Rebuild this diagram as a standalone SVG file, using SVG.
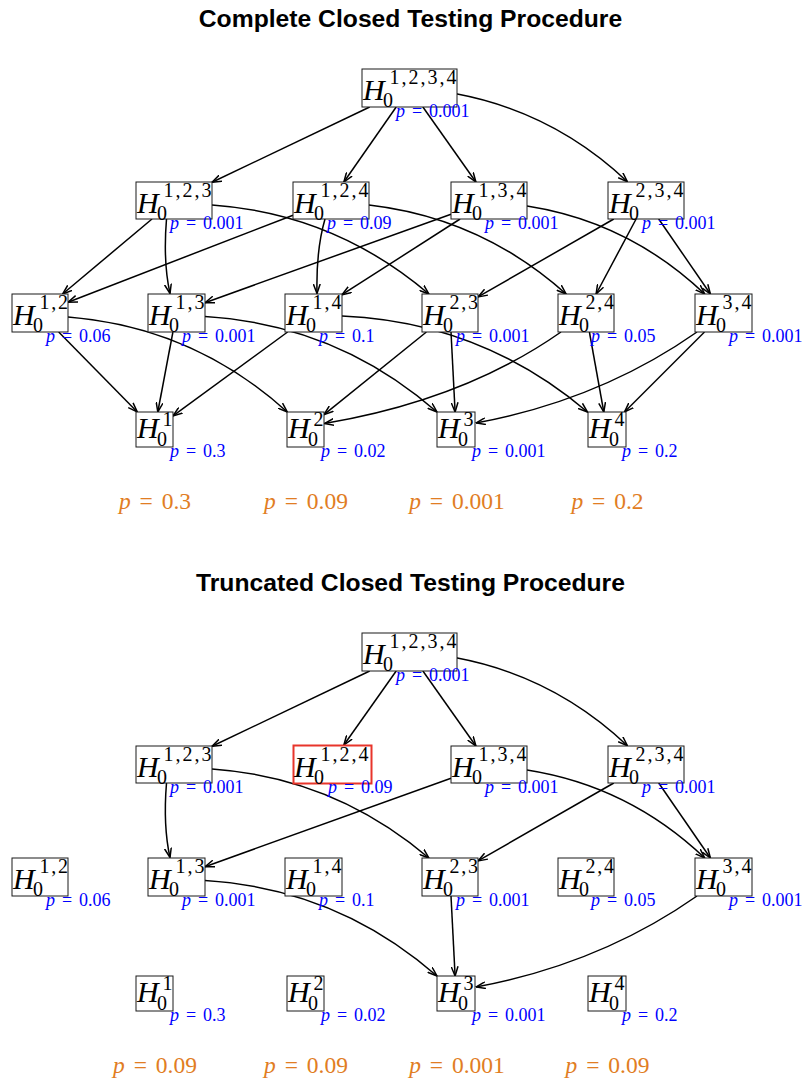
<svg xmlns="http://www.w3.org/2000/svg" width="806" height="1082" viewBox="0 0 806 1082">
  <defs>
    <style>
      .title { font-family: "Liberation Sans", Arial, sans-serif; font-weight: bold; font-size: 24.7px; fill: #000; text-anchor: middle; }
      .box { fill: #fff; stroke: #1a1a1a; stroke-width: 1; }
      .hl { fill: #fff; stroke: #e8352b; stroke-width: 2; }
      .H { font-family: "Liberation Serif", "Times New Roman", serif; font-style: italic; font-size: 30px; fill: #000; }
      .s { font-family: "Liberation Serif", "Times New Roman", serif; font-size: 20px; fill: #000; }
      .pv { font-family: "Liberation Serif", "Times New Roman", serif; font-size: 18px; fill: #0000ff; word-spacing: 2.4px; }
      .po { font-family: "Liberation Serif", "Times New Roman", serif; font-size: 23.5px; fill: #e17d23; word-spacing: 3px; text-anchor: middle; }
      .i { font-style: italic; }
      .e { fill: none; stroke: #000; stroke-width: 1.5; marker-end: url(#arr); }
    </style>
    <marker id="arr" viewBox="0 0 10 8" refX="9.5" refY="4" markerWidth="10" markerHeight="8" markerUnits="userSpaceOnUse" orient="auto">
      <path d="M0,0.6 L9.5,4 L0,7.4" fill="none" stroke="#000" stroke-width="1.5"/>
    </marker>
  </defs>
  <rect width="806" height="1082" fill="#fff"/>

  <!-- ===== Complete closed testing procedure ===== -->
  <g id="complete">
    <text class="title" x="410.5" y="27">Complete Closed Testing Procedure</text>

    <g id="t-edges">
      <path class="e" d="M369.7,107 L212,182.3"/>
      <path class="e" d="M396.2,107 L343.9,182"/>
      <path class="e" d="M422.9,107 L475.9,182"/>
      <path class="e" d="M456.1,93.8 Q553.9,112.2 627.4,181.7"/>
      <path class="e" d="M152,219 L62.6,294"/>
      <path class="e" d="M166.5,219 Q163,262 170,293.5"/>
      <path class="e" d="M212,205 Q334.4,213.6 428.9,294"/>
      <path class="e" d="M293,215.2 L68,302.2"/>
      <path class="e" d="M325,219 Q316,250 317,293.5"/>
      <path class="e" d="M369,205 Q481.3,218 566.1,294"/>
      <path class="e" d="M451,214.2 L205,302.7"/>
      <path class="e" d="M460.1,219 L342,294.7"/>
      <path class="e" d="M527,206 Q629,222 704.7,294"/>
      <path class="e" d="M613.8,219 L478,296.9"/>
      <path class="e" d="M636.1,219 L596.1,294"/>
      <path class="e" d="M658.7,219 L710.4,294"/>
      <path class="e" d="M58.7,332 L137.3,412"/>
      <path class="e" d="M68,317 Q193.6,327.1 287.3,412"/>
      <path class="e" d="M172.9,332 L157.8,412"/>
      <path class="e" d="M205,316.5 Q337.1,324.5 437,412"/>
      <path class="e" d="M287.6,332 L173,415.9"/>
      <path class="e" d="M342,316 Q481.1,321.8 587.5,412"/>
      <path class="e" d="M426.4,332 L324,414.6"/>
      <path class="e" d="M451,332 L455.1,412"/>
      <path class="e" d="M561,332 Q464,400 324.5,423.5"/>
      <path class="e" d="M589.4,332 L603.8,412"/>
      <path class="e" d="M697,332 Q600,400 476,423"/>
      <path class="e" d="M704.5,332 L624.5,412"/>
    </g>

    <g id="t-h1234">
      <rect class="box" x="362" y="69" width="95" height="38"/>
      <text class="H" x="363" y="99.5">H</text>
      <text class="s" x="389.5" y="83.5" textLength="67" lengthAdjust="spacing">1,2,3,4</text>
      <text class="s" x="383" y="106.5">0</text>
      <text class="pv" x="396" y="117"><tspan class="i">p</tspan> = 0.001</text>
    </g>

    <g id="t-h123">
      <rect class="box" x="136" y="182" width="76" height="37"/>
      <text class="H" x="137" y="212.5">H</text>
      <text class="s" x="163.5" y="196.5" textLength="48" lengthAdjust="spacing">1,2,3</text>
      <text class="s" x="157" y="219.5">0</text>
      <text class="pv" x="170" y="229"><tspan class="i">p</tspan> = 0.001</text>
    </g>
    <g id="t-h124">
      <rect class="box" x="293" y="182" width="76" height="37"/>
      <text class="H" x="294" y="212.5">H</text>
      <text class="s" x="320.5" y="196.5" textLength="48" lengthAdjust="spacing">1,2,4</text>
      <text class="s" x="314" y="219.5">0</text>
      <text class="pv" x="327" y="229"><tspan class="i">p</tspan> = 0.09</text>
    </g>
    <g id="t-h134">
      <rect class="box" x="451" y="182" width="76" height="37"/>
      <text class="H" x="452" y="212.5">H</text>
      <text class="s" x="478.5" y="196.5" textLength="48" lengthAdjust="spacing">1,3,4</text>
      <text class="s" x="472" y="219.5">0</text>
      <text class="pv" x="485" y="229"><tspan class="i">p</tspan> = 0.001</text>
    </g>
    <g id="t-h234">
      <rect class="box" x="608" y="182" width="76" height="37"/>
      <text class="H" x="609" y="212.5">H</text>
      <text class="s" x="635.5" y="196.5" textLength="48" lengthAdjust="spacing">2,3,4</text>
      <text class="s" x="629" y="219.5">0</text>
      <text class="pv" x="642" y="229"><tspan class="i">p</tspan> = 0.001</text>
    </g>

    <g id="t-h12">
      <rect class="box" x="12" y="294" width="56" height="38"/>
      <text class="H" x="13" y="324.5">H</text>
      <text class="s" x="39.5" y="308.5" textLength="28.5" lengthAdjust="spacing">1,2</text>
      <text class="s" x="33" y="331.5">0</text>
      <text class="pv" x="46" y="342"><tspan class="i">p</tspan> = 0.06</text>
    </g>
    <g id="t-h13">
      <rect class="box" x="148" y="294" width="57" height="38"/>
      <text class="H" x="149" y="324.5">H</text>
      <text class="s" x="175.5" y="308.5" textLength="29" lengthAdjust="spacing">1,3</text>
      <text class="s" x="169" y="331.5">0</text>
      <text class="pv" x="182" y="342"><tspan class="i">p</tspan> = 0.001</text>
    </g>
    <g id="t-h14">
      <rect class="box" x="285" y="294" width="57" height="38"/>
      <text class="H" x="286" y="324.5">H</text>
      <text class="s" x="312.5" y="308.5" textLength="29" lengthAdjust="spacing">1,4</text>
      <text class="s" x="306" y="331.5">0</text>
      <text class="pv" x="319" y="342"><tspan class="i">p</tspan> = 0.1</text>
    </g>
    <g id="t-h23">
      <rect class="box" x="422" y="294" width="56" height="38"/>
      <text class="H" x="423" y="324.5">H</text>
      <text class="s" x="449.5" y="308.5" textLength="28.5" lengthAdjust="spacing">2,3</text>
      <text class="s" x="443" y="331.5">0</text>
      <text class="pv" x="456" y="342"><tspan class="i">p</tspan> = 0.001</text>
    </g>
    <g id="t-h24">
      <rect class="box" x="558" y="294" width="56" height="38"/>
      <text class="H" x="559" y="324.5">H</text>
      <text class="s" x="585.5" y="308.5" textLength="28.5" lengthAdjust="spacing">2,4</text>
      <text class="s" x="579" y="331.5">0</text>
      <text class="pv" x="591" y="342"><tspan class="i">p</tspan> = 0.05</text>
    </g>
    <g id="t-h34">
      <rect class="box" x="695" y="294" width="57" height="38"/>
      <text class="H" x="696" y="324.5">H</text>
      <text class="s" x="722.5" y="308.5" textLength="29" lengthAdjust="spacing">3,4</text>
      <text class="s" x="716" y="331.5">0</text>
      <text class="pv" x="729" y="342"><tspan class="i">p</tspan> = 0.001</text>
    </g>

    <g id="t-h1">
      <rect class="box" x="136" y="412" width="37" height="35"/>
      <text class="H" x="137" y="437.5">H</text>
      <text class="s" x="162.5" y="426">1</text>
      <text class="s" x="157" y="446">0</text>
      <text class="pv" x="170" y="457"><tspan class="i">p</tspan> = 0.3</text>
    </g>
    <g id="t-h2">
      <rect class="box" x="287" y="412" width="37" height="35"/>
      <text class="H" x="288" y="437.5">H</text>
      <text class="s" x="313.5" y="426">2</text>
      <text class="s" x="308" y="446">0</text>
      <text class="pv" x="321" y="457"><tspan class="i">p</tspan> = 0.02</text>
    </g>
    <g id="t-h3">
      <rect class="box" x="437" y="412" width="38" height="35"/>
      <text class="H" x="438" y="437.5">H</text>
      <text class="s" x="463.5" y="426">3</text>
      <text class="s" x="458" y="446">0</text>
      <text class="pv" x="472" y="457"><tspan class="i">p</tspan> = 0.001</text>
    </g>
    <g id="t-h4">
      <rect class="box" x="588" y="412" width="38" height="35"/>
      <text class="H" x="589" y="437.5">H</text>
      <text class="s" x="614.5" y="426">4</text>
      <text class="s" x="609" y="446">0</text>
      <text class="pv" x="622" y="457"><tspan class="i">p</tspan> = 0.2</text>
    </g>

    <g id="t-adjusted">
      <text class="po" x="155" y="509"><tspan class="i">p</tspan> = 0.3</text>
      <text class="po" x="306" y="509"><tspan class="i">p</tspan> = 0.09</text>
      <text class="po" x="457" y="509"><tspan class="i">p</tspan> = 0.001</text>
      <text class="po" x="607.5" y="509"><tspan class="i">p</tspan> = 0.2</text>
    </g>
  </g>

  <!-- ===== Truncated closed testing procedure ===== -->
  <g id="truncated" transform="translate(0,564)">
    <text class="title" x="410.5" y="27">Truncated Closed Testing Procedure</text>

    <g id="b-edges">
      <path class="e" d="M369.7,107 L212,182.3"/>
      <path class="e" d="M396.2,107 L343.9,181"/>
      <path class="e" d="M422.9,107 L475.9,182"/>
      <path class="e" d="M456.1,93.8 Q553.9,112.2 627.4,181.7"/>
      <path class="e" d="M166.5,219 Q163,262 170,293.5"/>
      <path class="e" d="M212,205 Q334.4,213.6 428.9,294"/>
      <path class="e" d="M451,214.2 L205,302.7"/>
      <path class="e" d="M527,206 Q629,222 704.7,294"/>
      <path class="e" d="M613.8,219 L478,296.9"/>
      <path class="e" d="M658.7,219 L710.4,294"/>
      <path class="e" d="M205,316.5 Q337.1,324.5 437,412"/>
      <path class="e" d="M451,332 L455.1,412"/>
      <path class="e" d="M697,332 Q600,400 476,423"/>
    </g>

    <g id="b-h1234">
      <rect class="box" x="362" y="69" width="95" height="38"/>
      <text class="H" x="363" y="99.5">H</text>
      <text class="s" x="389.5" y="83.5" textLength="67" lengthAdjust="spacing">1,2,3,4</text>
      <text class="s" x="383" y="106.5">0</text>
      <text class="pv" x="396" y="117"><tspan class="i">p</tspan> = 0.001</text>
    </g>

    <g id="b-h123">
      <rect class="box" x="136" y="182" width="76" height="37"/>
      <text class="H" x="137" y="212.5">H</text>
      <text class="s" x="163.5" y="196.5" textLength="48" lengthAdjust="spacing">1,2,3</text>
      <text class="s" x="157" y="219.5">0</text>
      <text class="pv" x="170" y="229"><tspan class="i">p</tspan> = 0.001</text>
    </g>
    <g id="b-h124">
      <rect class="hl" x="293.5" y="181.5" width="78" height="38"/>
      <text class="H" x="294" y="212.5">H</text>
      <text class="s" x="320.5" y="196.5" textLength="48" lengthAdjust="spacing">1,2,4</text>
      <text class="s" x="314" y="219.5">0</text>
      <text class="pv" x="328" y="229"><tspan class="i">p</tspan> = 0.09</text>
    </g>
    <g id="b-h134">
      <rect class="box" x="451" y="182" width="76" height="37"/>
      <text class="H" x="452" y="212.5">H</text>
      <text class="s" x="478.5" y="196.5" textLength="48" lengthAdjust="spacing">1,3,4</text>
      <text class="s" x="472" y="219.5">0</text>
      <text class="pv" x="485" y="229"><tspan class="i">p</tspan> = 0.001</text>
    </g>
    <g id="b-h234">
      <rect class="box" x="608" y="182" width="76" height="37"/>
      <text class="H" x="609" y="212.5">H</text>
      <text class="s" x="635.5" y="196.5" textLength="48" lengthAdjust="spacing">2,3,4</text>
      <text class="s" x="629" y="219.5">0</text>
      <text class="pv" x="642" y="229"><tspan class="i">p</tspan> = 0.001</text>
    </g>

    <g id="b-h12">
      <rect class="box" x="12" y="294" width="56" height="38"/>
      <text class="H" x="13" y="324.5">H</text>
      <text class="s" x="39.5" y="308.5" textLength="28.5" lengthAdjust="spacing">1,2</text>
      <text class="s" x="33" y="331.5">0</text>
      <text class="pv" x="46" y="342"><tspan class="i">p</tspan> = 0.06</text>
    </g>
    <g id="b-h13">
      <rect class="box" x="148" y="294" width="57" height="38"/>
      <text class="H" x="149" y="324.5">H</text>
      <text class="s" x="175.5" y="308.5" textLength="29" lengthAdjust="spacing">1,3</text>
      <text class="s" x="169" y="331.5">0</text>
      <text class="pv" x="182" y="342"><tspan class="i">p</tspan> = 0.001</text>
    </g>
    <g id="b-h14">
      <rect class="box" x="285" y="294" width="57" height="38"/>
      <text class="H" x="286" y="324.5">H</text>
      <text class="s" x="312.5" y="308.5" textLength="29" lengthAdjust="spacing">1,4</text>
      <text class="s" x="306" y="331.5">0</text>
      <text class="pv" x="319" y="342"><tspan class="i">p</tspan> = 0.1</text>
    </g>
    <g id="b-h23">
      <rect class="box" x="422" y="294" width="56" height="38"/>
      <text class="H" x="423" y="324.5">H</text>
      <text class="s" x="449.5" y="308.5" textLength="28.5" lengthAdjust="spacing">2,3</text>
      <text class="s" x="443" y="331.5">0</text>
      <text class="pv" x="456" y="342"><tspan class="i">p</tspan> = 0.001</text>
    </g>
    <g id="b-h24">
      <rect class="box" x="558" y="294" width="56" height="38"/>
      <text class="H" x="559" y="324.5">H</text>
      <text class="s" x="585.5" y="308.5" textLength="28.5" lengthAdjust="spacing">2,4</text>
      <text class="s" x="579" y="331.5">0</text>
      <text class="pv" x="591" y="342"><tspan class="i">p</tspan> = 0.05</text>
    </g>
    <g id="b-h34">
      <rect class="box" x="695" y="294" width="57" height="38"/>
      <text class="H" x="696" y="324.5">H</text>
      <text class="s" x="722.5" y="308.5" textLength="29" lengthAdjust="spacing">3,4</text>
      <text class="s" x="716" y="331.5">0</text>
      <text class="pv" x="729" y="342"><tspan class="i">p</tspan> = 0.001</text>
    </g>

    <g id="b-h1">
      <rect class="box" x="136" y="412" width="37" height="35"/>
      <text class="H" x="137" y="437.5">H</text>
      <text class="s" x="162.5" y="426">1</text>
      <text class="s" x="157" y="446">0</text>
      <text class="pv" x="170" y="457"><tspan class="i">p</tspan> = 0.3</text>
    </g>
    <g id="b-h2">
      <rect class="box" x="287" y="412" width="37" height="35"/>
      <text class="H" x="288" y="437.5">H</text>
      <text class="s" x="313.5" y="426">2</text>
      <text class="s" x="308" y="446">0</text>
      <text class="pv" x="321" y="457"><tspan class="i">p</tspan> = 0.02</text>
    </g>
    <g id="b-h3">
      <rect class="box" x="437" y="412" width="38" height="35"/>
      <text class="H" x="438" y="437.5">H</text>
      <text class="s" x="463.5" y="426">3</text>
      <text class="s" x="458" y="446">0</text>
      <text class="pv" x="472" y="457"><tspan class="i">p</tspan> = 0.001</text>
    </g>
    <g id="b-h4">
      <rect class="box" x="588" y="412" width="38" height="35"/>
      <text class="H" x="589" y="437.5">H</text>
      <text class="s" x="614.5" y="426">4</text>
      <text class="s" x="609" y="446">0</text>
      <text class="pv" x="622" y="457"><tspan class="i">p</tspan> = 0.2</text>
    </g>

    <g id="b-adjusted">
      <text class="po" x="155" y="509"><tspan class="i">p</tspan> = 0.09</text>
      <text class="po" x="306" y="509"><tspan class="i">p</tspan> = 0.09</text>
      <text class="po" x="457" y="509"><tspan class="i">p</tspan> = 0.001</text>
      <text class="po" x="607.5" y="509"><tspan class="i">p</tspan> = 0.09</text>
    </g>
  </g>
</svg>
